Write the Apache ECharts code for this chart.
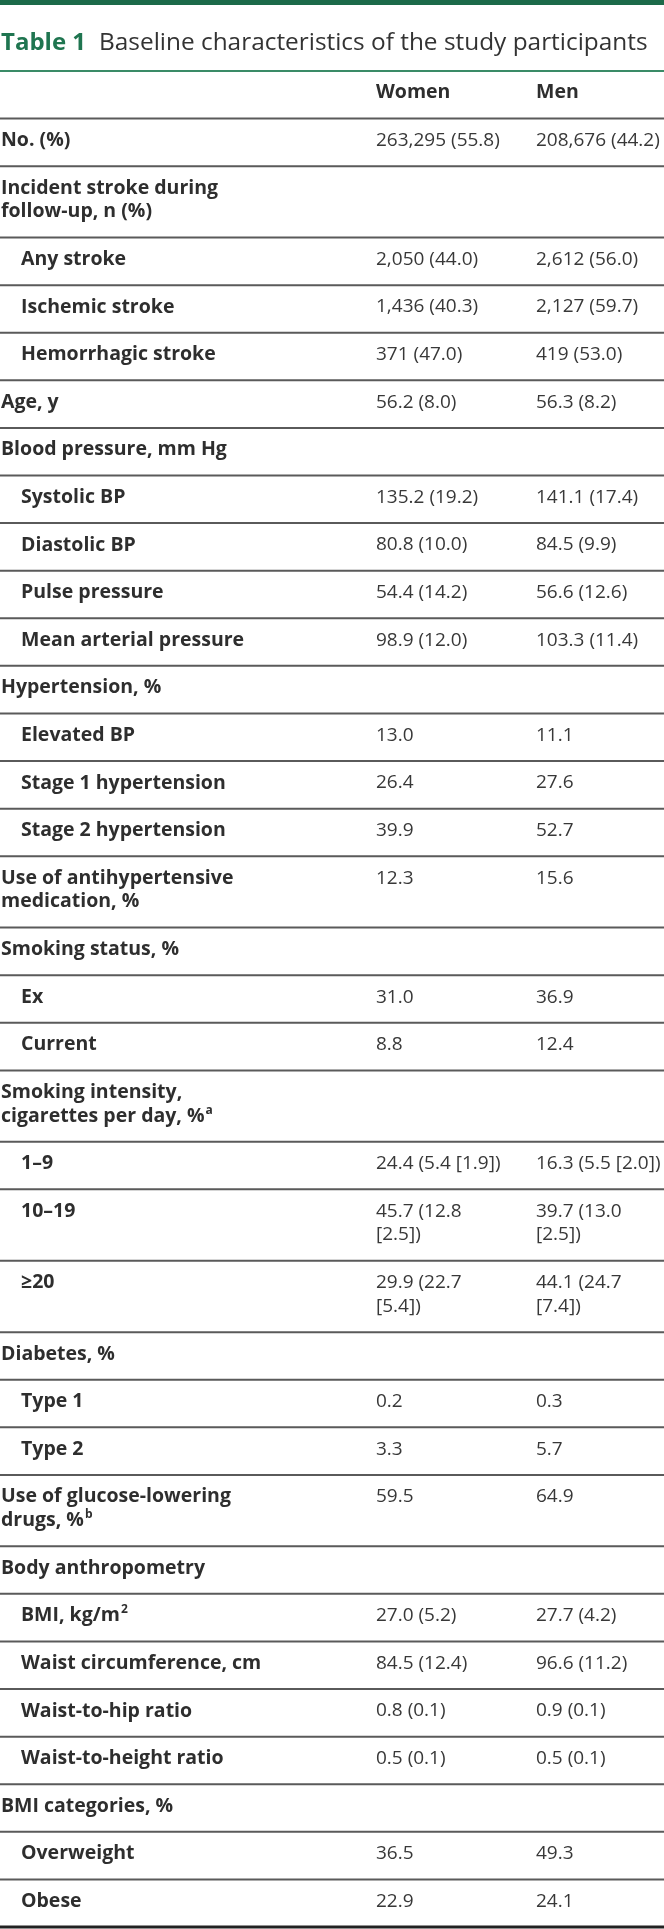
<!DOCTYPE html>
<html>
<head>
<meta charset="utf-8">
<script src="https://cdn.jsdelivr.net/npm/echarts@6/dist/echarts.min.js"></script>
<style>
html, body { margin: 0; padding: 0; background: #ffffff; }
#chart { width: 664px; height: 1929px; }
</style>
</head>
<body>
<div id="chart"></div>
<script>
// ---------------- DATA ----------------
const tableNumber = 'Table 1';
const tableTitle = 'Baseline characteristics of the study participants';
const columnHeaders = ['Women', 'Men'];

const rowLabels = [
  'No. (%)',
  'Incident stroke during\nfollow-up, n (%)',
  'Any stroke',
  'Ischemic stroke',
  'Hemorrhagic stroke',
  'Age, y',
  'Blood pressure, mm Hg',
  'Systolic BP',
  'Diastolic BP',
  'Pulse pressure',
  'Mean arterial pressure',
  'Hypertension, %',
  'Elevated BP',
  'Stage 1 hypertension',
  'Stage 2 hypertension',
  'Use of antihypertensive\nmedication, %',
  'Smoking status, %',
  'Ex',
  'Current',
  'Smoking intensity,\ncigarettes per day, %{sup|a}',
  '1–9',
  '10–19',
  '≥20',
  'Diabetes, %',
  'Type 1',
  'Type 2',
  'Use of glucose-lowering\ndrugs, %{sup|b}',
  'Body anthropometry',
  'BMI, kg/m{sup|2}',
  'Waist circumference, cm',
  'Waist-to-hip ratio',
  'Waist-to-height ratio',
  'BMI categories, %',
  'Overweight',
  'Obese'
];

// hierarchy level of each row (0 = group / main item, 1 = sub item)
const rowLevels = [0,0,1,1,1,0,0,1,1,1,1,0,1,1,1,0,0,1,1,0,1,1,1,0,1,1,0,0,1,1,1,1,0,1,1];

const womenValues = [
  '263,295 (55.8)', '', '2,050 (44.0)', '1,436 (40.3)', '371 (47.0)', '56.2 (8.0)',
  '', '135.2 (19.2)', '80.8 (10.0)', '54.4 (14.2)', '98.9 (12.0)',
  '', '13.0', '26.4', '39.9', '12.3',
  '', '31.0', '8.8',
  '', '24.4 (5.4 [1.9])', '45.7 (12.8\n[2.5])', '29.9 (22.7\n[5.4])',
  '', '0.2', '3.3', '59.5',
  '', '27.0 (5.2)', '84.5 (12.4)', '0.8 (0.1)', '0.5 (0.1)',
  '', '36.5', '22.9'
];

const menValues = [
  '208,676 (44.2)', '', '2,612 (56.0)', '2,127 (59.7)', '419 (53.0)', '56.3 (8.2)',
  '', '141.1 (17.4)', '84.5 (9.9)', '56.6 (12.6)', '103.3 (11.4)',
  '', '11.1', '27.6', '52.7', '15.6',
  '', '36.9', '12.4',
  '', '16.3 (5.5 [2.0])', '39.7 (13.0\n[2.5])', '44.1 (24.7\n[7.4])',
  '', '0.3', '5.7', '64.9',
  '', '27.7 (4.2)', '96.6 (11.2)', '0.9 (0.1)', '0.5 (0.1)',
  '', '49.3', '24.1'
];

// ---------------- LAYOUT / STYLE ----------------
const FONT = '"Open Sans", "Noto Sans", "DejaVu Sans", sans-serif';
const GREEN = '#1f7550';
const BAR_GREEN = '#1c6a49';
const RULE_GREEN = '#3a8b67';
const LABEL_COLOR = '#2e2e2e';
const VALUE_COLOR = '#383838';
const LABEL_SIZE = 19.5;
const VALUE_SIZE = 19;
const COL_X = { level0: 1, level1: 21, women: 376, men: 536 };
const PAGE_W = 664;

// Build row records: header row first, then data rows.
const lineCount = s => s.split('\n').length;
const rows = [{ label: '', level: 0, women: columnHeaders[0], men: columnHeaders[1], header: true }];
rowLabels.forEach((lab, i) => {
  rows.push({ label: lab, level: rowLevels[i], women: womenValues[i], men: menValues[i], header: false });
});
// each row spans (lines + 1) vertical units
let cursor = 0;
const rowData = rows.map((r, i) => {
  const lines = Math.max(lineCount(r.label), lineCount(r.women), lineCount(r.men));
  const start = cursor;
  cursor += lines + 1;
  return [i, start, cursor];
});
const TOTAL_UNITS = cursor;

const supRich = {
  sup: { fontSize: 12, fontFamily: FONT, fontWeight: 'bold', color: LABEL_COLOR, verticalAlign: 'top', padding: [0, 0, 0, 1] }
};

function renderRow(params, api) {
  const idx = api.value(0);
  const row = rows[idx];
  const yTop = api.coord([0, api.value(1)])[1];
  const yBot = api.coord([0, api.value(2)])[1];
  const unit = api.size([0, 1])[1];
  const xL = api.coord([row.level === 0 ? COL_X.level0 : COL_X.level1, 0])[0];
  const xW = api.coord([COL_X.women, 0])[0];
  const xM = api.coord([COL_X.men, 0])[0];
  const x0 = api.coord([0, 0])[0];
  const x1 = api.coord([PAGE_W, 0])[0];
  const textY = yTop + unit * 0.92 - unit / 2;
  const children = [];
  const mkText = (x, text, bold, color, size) => ({
    type: 'text',
    x: x, y: textY,
    silent: true,
    style: {
      text: text,
      fontFamily: FONT,
      fontSize: size,
      fontWeight: bold ? 'bold' : 'normal',
      fill: color,
      align: 'left',
      verticalAlign: 'top',
      lineHeight: unit,
      rich: supRich
    }
  });
  if (row.label) children.push(mkText(xL, row.label, true, LABEL_COLOR, LABEL_SIZE));
  if (row.women) children.push(mkText(xW, row.women, row.header, row.header ? LABEL_COLOR : VALUE_COLOR, row.header ? LABEL_SIZE : VALUE_SIZE));
  if (row.men) children.push(mkText(xM, row.men, row.header, row.header ? LABEL_COLOR : VALUE_COLOR, row.header ? LABEL_SIZE : VALUE_SIZE));
  const isLast = idx === rows.length - 1;
  if (row.header) {
    children.push({ type: 'line', silent: true, shape: { x1: x0, y1: yTop, x2: x1, y2: yTop }, style: { stroke: RULE_GREEN, lineWidth: 2 } });
  }
  children.push({
    type: 'line', silent: true,
    shape: { x1: x0, y1: yBot, x2: x1, y2: yBot },
    style: { stroke: isLast ? '#222222' : '#5a5a5a', lineWidth: isLast ? 3 : 2 }
  });
  return { type: 'group', children: children };
}

const chart = echarts.init(document.getElementById('chart'), null, { renderer: 'canvas' });
chart.setOption({
  backgroundColor: '#ffffff',
  animation: false,
  title: {
    text: '{n|' + tableNumber + '}{t|' + tableTitle + '}',
    left: 1,
    top: 28,
    padding: 0,
    textStyle: {
      rich: {
        n: { fontFamily: FONT, fontSize: 24, fontWeight: 'bold', color: GREEN, lineHeight: 30, padding: [0, 13, 0, 0] },
        t: { fontFamily: FONT, fontSize: 24.4, fontWeight: 'normal', color: '#333333', lineHeight: 30 }
      }
    }
  },
  graphic: [
    { type: 'rect', left: 0, top: 0, shape: { width: PAGE_W, height: 5 }, style: { fill: BAR_GREEN }, silent: true }
  ],
  grid: { left: 0, right: 0, top: 71, bottom: 2 },
  xAxis: { type: 'value', min: 0, max: PAGE_W, show: false },
  yAxis: { type: 'value', min: 0, max: TOTAL_UNITS, inverse: true, show: false },
  series: [{
    type: 'custom',
    renderItem: renderRow,
    data: rowData,
    encode: { x: -1, y: [1, 2] },
    clip: false,
    silent: true
  }]
});
</script>
</body>
</html>
